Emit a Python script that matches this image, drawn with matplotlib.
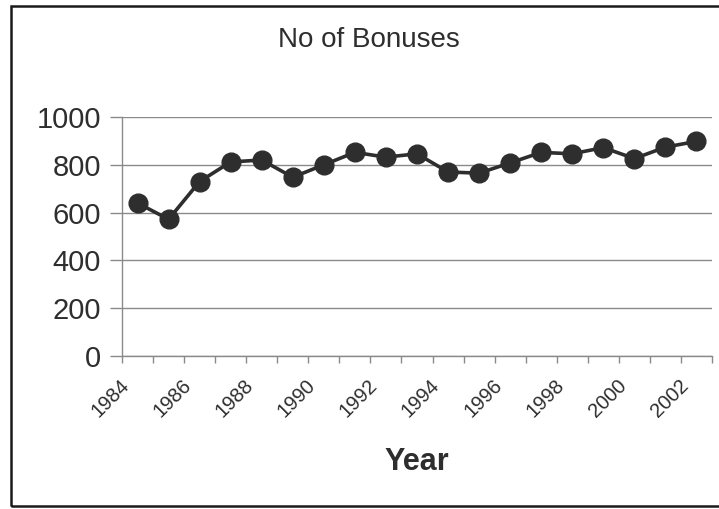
import matplotlib
matplotlib.use("Agg")
import matplotlib.pyplot as plt
from matplotlib.patches import Rectangle
from matplotlib.ticker import FixedLocator
from matplotlib.transforms import ScaledTranslation

years = list(range(1984, 2003))
bonuses = [640, 572, 730, 812, 820, 748, 800, 852, 832, 846, 770, 765, 808, 852, 846, 872, 826, 874, 898]
tick_labels = [str(y) for y in years]

plt.rcParams['font.family'] = ['Liberation Sans', 'DejaVu Sans']

W, H = 719, 509
fig = plt.figure(figsize=(W / 100, H / 100), dpi=100)
fig.patch.set_facecolor('white')

ink = '#2e2e2e'
grid = '#8a8a8a'

# outer chart frame
fig.patches.append(Rectangle((11 / W, 1 - 506 / H), 1.2, (506 - 6) / H,
                             transform=fig.transFigure, fill=False,
                             edgecolor='#1a1a1a', linewidth=1.8))

ax = fig.add_axes([122 / W, 1 - 356 / H, (712 - 122) / W, (356 - 117) / H])
ax.set_facecolor('none')

x = list(range(len(years)))
ax.plot(x, bonuses, color=ink, linewidth=2.6, marker='o', markersize=13.5,
        markerfacecolor=ink, markeredgecolor=ink, zorder=3, clip_on=False)

ax.set_xlim(-0.5, len(years) - 0.5)
ax.set_ylim(0, 1000)
ax.set_yticks([0, 200, 400, 600, 800, 1000])
ax.yaxis.grid(True, color=grid, linewidth=1.0)
ax.set_axisbelow(True)

for s in ['top', 'right']:
    ax.spines[s].set_visible(False)
for s in ['left', 'bottom']:
    ax.spines[s].set_color(grid)
    ax.spines[s].set_linewidth(1.0)

ax.tick_params(axis='y', labelsize=21, colors=grid, labelcolor=ink,
               length=9, width=1.0, pad=6)

# major ticks at category centers (labels only), minor at boundaries (marks)
ax.set_xticks(x[::2])
ax.set_xticklabels(tick_labels[::2], rotation=45, ha='right', va='top',
                   rotation_mode='anchor', fontsize=14.5, color=ink)
ax.tick_params(axis='x', which='major', length=0, pad=14)
offset = ScaledTranslation(-18 / 100, 0, fig.dpi_scale_trans)
for lab in ax.get_xticklabels():
    lab.set_transform(lab.get_transform() + offset)
ax.xaxis.set_minor_locator(FixedLocator([i - 0.5 for i in range(len(years) + 1)]))
ax.tick_params(axis='x', which='minor', length=5, width=1.0, color=grid)

ax.set_xlabel('Year', fontsize=22, fontweight='bold', color=ink, labelpad=19)

fig.text(369 / W, 1 - 40 / H, 'No of Bonuses', ha='center', va='center',
         fontsize=20, color=ink)

fig.savefig('out.png', dpi=100, facecolor='white')
